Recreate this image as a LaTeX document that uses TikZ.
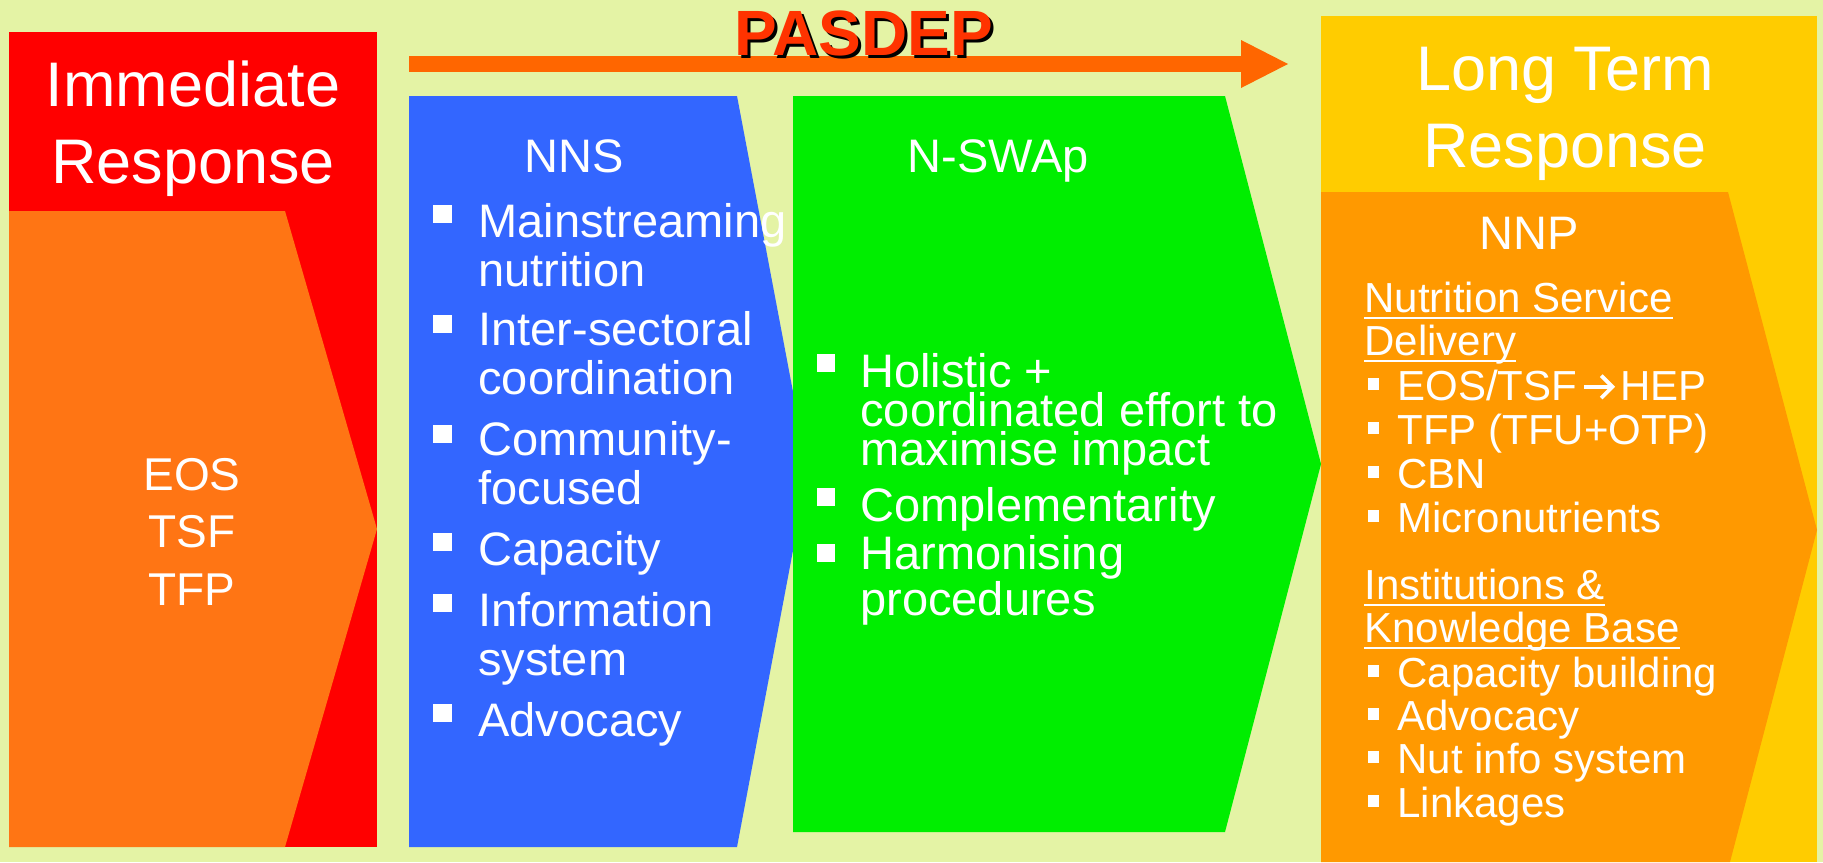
\documentclass[tikz,border=0pt]{standalone}
\usepackage{fontspec}
\setmainfont{Liberation Sans}
\usetikzlibrary{arrows.meta}

\definecolor{bgyellow}{RGB}{228,243,165}
\definecolor{immred}{RGB}{255,0,0}
\definecolor{immorange}{RGB}{255,117,20}
\definecolor{nnsblue}{RGB}{51,102,255}
\definecolor{swapgreen}{RGB}{0,238,0}
\definecolor{longyellow}{RGB}{255,204,0}
\definecolor{nnporange}{RGB}{255,153,0}
\definecolor{pasdeparrow}{RGB}{255,102,0}
\definecolor{pasdeptext}{RGB}{255,51,0}

% underline at a fixed depth, descenders cross it
\newcommand{\undl}[1]{\setbox0\hbox{#1}\rlap{\rule[-3.5pt]{\wd0}{1pt}}\box0}
% cap-height arrow with an open head
\newcommand{\chevto}{\tikz[x=1pt, y=1pt, baseline=0pt, white, line width=1.9pt]{\draw (0,6.6) -- (14,6.6); \draw (8.6,1) -- (14.2,6.6) -- (8.6,12.2);}}

% multi-line nodes sit on the baseline of their last line
\tikzset{
    head/.style={text=white, align=center, anchor=base, inner sep=0pt, font=\fontsize{31.5}{38.5}\selectfont},
    title/.style={text=white, anchor=base, inner sep=0pt, font=\fontsize{23.5}{28}\selectfont},
    eos/.style={text=white, align=center, anchor=base, inner sep=0pt, font=\fontsize{23}{28.75}\selectfont},
    nnsitem/.style={text=white, align=left, anchor=base west, inner sep=0pt, font=\fontsize{23.5}{24.25}\selectfont},
    swapitem/.style={text=white, align=left, anchor=base west, inner sep=0pt, font=\fontsize{23.5}{19.5}\selectfont},
    nnphead/.style={text=white, align=left, anchor=base west, inner sep=0pt, font=\fontsize{21}{21.5}\selectfont},
    nnpitem/.style={text=white, anchor=base west, inner sep=0pt, font=\fontsize{21}{21}\selectfont},
    pasdep/.style={text=pasdeptext, anchor=base, inner sep=0pt, font=\fontsize{32}{36}\selectfont\bfseries},
}

\begin{document}
\begin{tikzpicture}[x=0.5pt, y=-0.5pt]
    \useasboundingbox (0,0) rectangle (1823,862);
    \fill[bgyellow] (0,0) rectangle (1823,862);

    % immediate response
    \fill[immred] (9,32) rectangle (377,847);
    \fill[immorange] (9,211) -- (285,211) -- (377,529) -- (285,847) -- (9,847) -- cycle;
    % NNS and N-SWAp
    \fill[nnsblue] (409,96) -- (737,96) -- (808,471) -- (737,847) -- (409,847) -- cycle;
    \fill[swapgreen] (793,96) -- (1225,96) -- (1321,464) -- (1225,832) -- (793,832) -- cycle;
    % long term response
    \fill[longyellow] (1321,16) rectangle (1817,862);
    \fill[nnporange] (1321,192) -- (1728,192) -- (1817,530) -- (1730,862) -- (1321,862) -- cycle;

    % PASDEP timeline
    \coordinate (pasdepstart) at (409,64);
    \coordinate (pasdepend) at (1288,64);
    \draw[pasdeparrow, line width=8pt, -{Triangle[length=23.5pt, width=24pt, line width=0pt]}] (pasdepstart) -- (pasdepend);
    \node[pasdep, text=black] (pasdepshadow) at (867,58) {PASDEP};
    \node[pasdep] (pasdep) at (864,55) {PASDEP};

    \node[head] (immediate) at (193,183) {Immediate\\Response};
    \node[head] (longterm) at (1565,167) {Long Term\\Response};
    \node[eos] (emergency) at (192,605) {EOS\\TSF\\TFP};
    \node[title] (nns) at (574,172) {NNS};
    \node[title] (nswap) at (998,172) {N-SWAp};
    \node[title] (nnp) at (1529,249) {NNP};

    \foreach \b in {237,347,457,565,626,736}
        \fill[white] (433,\b-32) rectangle (452,\b-14);
    \node[nnsitem] (mainstream) at (478,286) {Mainstreaming\\nutrition};
    \node[nnsitem] (intersect) at (478,394) {Inter-sectoral\\coordination};
    \node[nnsitem] (community) at (478,504) {Community-\\focused};
    \node[nnsitem] (capacity) at (478,565) {Capacity};
    \node[nnsitem] (infosys) at (478,675) {Information\\system};
    \node[nnsitem] (advocacy) at (478,736) {Advocacy};

    \foreach \b in {387,521,577}
        \fill[white] (817,\b-33) rectangle (835,\b-15);
    \node[swapitem] (holistic) at (860,465) {Holistic +\\coordinated effort to\\maximise impact};
    \node[swapitem] (complement) at (860,521) {Complementarity};
    \node[swapitem] (harmonise) at (860,615) {Harmonising\\procedures};

    \foreach \b in {400,444,488,532,687,730,773,817}
        \fill[white] (1368,\b-22) rectangle (1379,\b-10);
    \node[nnphead] (service) at (1364,355) {\undl{Nutrition Service}\\\undl{Delivery}};
    \node[nnpitem] (eostsf) at (1397,400) {EOS/TSF\kern2.5pt\chevto\kern3pt HEP};
    \node[nnpitem] (tfp) at (1397,444) {TFP (TFU+OTP)};
    \node[nnpitem] (cbn) at (1397,488) {CBN};
    \node[nnpitem] (micro) at (1397,532) {Micronutrients};
    \node[nnphead] (institutions) at (1364,642) {\undl{Institutions \&}\\\undl{Knowledge Base}};
    \node[nnpitem] (capbuild) at (1397,687) {Capacity building};
    \node[nnpitem] (nnpadvocacy) at (1397,730) {Advocacy};
    \node[nnpitem] (nutinfo) at (1397,773) {Nut info system};
    \node[nnpitem] (linkages) at (1397,817) {Linkages};
\end{tikzpicture}
\end{document}
